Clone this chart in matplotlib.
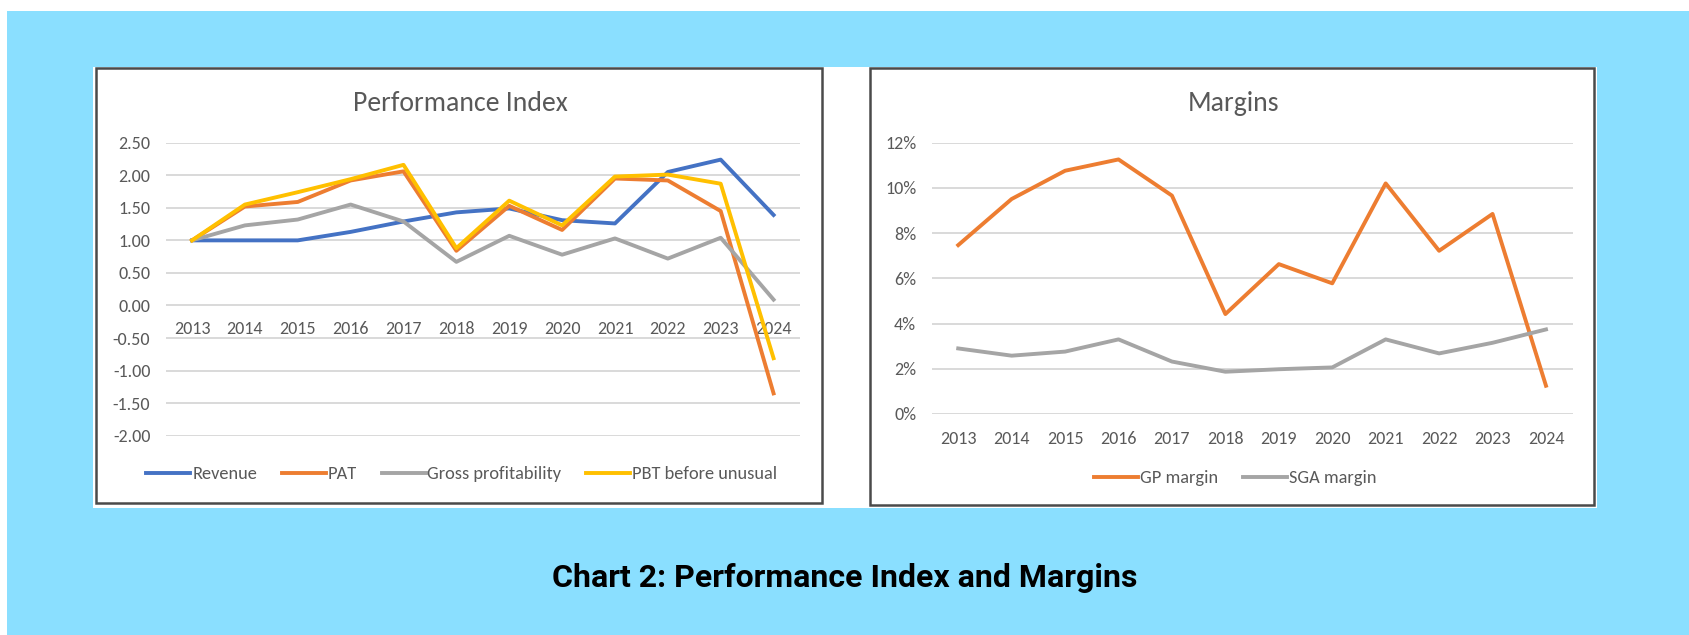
import matplotlib
matplotlib.use("Agg")
import matplotlib.pyplot as plt
from matplotlib import font_manager
from matplotlib.patches import Rectangle
from matplotlib.ticker import FuncFormatter

# Data
years = ["2013", "2014", "2015", "2016", "2017", "2018",
         "2019", "2020", "2021", "2022", "2023", "2024"]

revenue = [1.00, 1.00, 1.00, 1.13, 1.29, 1.43, 1.49, 1.31, 1.26, 2.05, 2.24, 1.39]
pat = [1.00, 1.52, 1.59, 1.92, 2.06, 0.84, 1.53, 1.16, 1.95, 1.92, 1.45, -1.35]
gross_profitability = [1.00, 1.23, 1.32, 1.55, 1.29, 0.67, 1.07, 0.78, 1.03, 0.72, 1.04, 0.09]
pbt_before_unusual = [1.00, 1.55, 1.74, 1.94, 2.16, 0.88, 1.61, 1.23, 1.98, 2.01, 1.87, -0.81]

gp_margin = [7.47, 9.51, 10.76, 11.26, 9.66, 4.42, 6.63, 5.78, 10.20, 7.22, 8.85, 1.25]
sga_margin = [2.90, 2.58, 2.76, 3.30, 2.32, 1.87, 1.98, 2.06, 3.30, 2.68, 3.15, 3.74]

perf_ticks = [2.5, 2.0, 1.5, 1.0, 0.5, 0.0, -0.5, -1.0, -1.5, -2.0]
margin_ticks = [0, 2, 4, 6, 8, 10, 12]

W, H = 1689, 635
BLUE, ORANGE, GREY, GOLD = "#4472C4", "#ED7D31", "#A5A5A5", "#FFC000"
TEXT = "#595959"
GRID = "#D9D9D9"
LW = 2.8

installed = {f.name for f in font_manager.fontManager.ttflist}
FONT = next((f for f in ["Carlito", "Calibri", "Lato", "DejaVu Sans"] if f in installed), "DejaVu Sans")
plt.rcParams["font.family"] = FONT


def box(x0, y0, x1, y1):
    """pixel box (top-left origin) -> figure fraction [l, b, w, h]"""
    return [x0 / W, 1 - y1 / H, (x1 - x0) / W, (y1 - y0) / H]


def style_axes(ax):
    for s in ax.spines.values():
        s.set_visible(False)
    ax.grid(axis="y", color=GRID, linewidth=1.4)
    ax.set_axisbelow(True)
    ax.tick_params(length=0, colors=TEXT, labelsize=13)
    ax.set_xlim(-0.5, len(years) - 0.5)
    ax.set_xticks(range(len(years)))
    ax.set_xticklabels(years)
    ax.patch.set_alpha(0)


fig = plt.figure(figsize=(W / 100, H / 100), dpi=100)
fig.patch.set_facecolor("white")

# page background and white chart card
fig.patches.append(Rectangle((7 / W, 0), 1, 1 - 11 / H, transform=fig.transFigure,
                             facecolor="#8ADFFF", edgecolor="none", zorder=-3))
l, b, w, h = box(93, 67, 1597, 508)
fig.patches.append(Rectangle((l, b), w, h, transform=fig.transFigure,
                             facecolor="white", edgecolor="none", zorder=-2))
for x0, y0, x1, y1 in [(96, 68, 822, 503), (870, 68, 1594, 505)]:
    l, b, w, h = box(x0, y0, x1, y1)
    fig.patches.append(Rectangle((l, b), w, h, transform=fig.transFigure,
                                 facecolor="none", edgecolor="#4A4A4A", linewidth=1.8, zorder=-1))

# Performance Index
ax1 = fig.add_axes(box(165.6, 142.7, 800, 435.7))
style_axes(ax1)
x = range(len(years))
ax1.plot(x, revenue, color=BLUE, lw=LW, label="Revenue")
ax1.plot(x, pat, color=ORANGE, lw=LW, label="PAT")
ax1.plot(x, gross_profitability, color=GREY, lw=LW, label="Gross profitability")
ax1.plot(x, pbt_before_unusual, color=GOLD, lw=LW, label="PBT before unusual")
ax1.set_ylim(-2.0, 2.5)
ax1.set_yticks(perf_ticks)
ax1.yaxis.set_major_formatter(FuncFormatter(lambda v, _: f"{v:.2f}"))
ax1.spines["bottom"].set_position(("data", 0))
ax1.tick_params(axis="x", pad=11.5)
ax1.tick_params(axis="y", pad=11)
fig.text(460.6 / W, 1 - 103.3 / H, "Performance Index", ha="center", va="center",
         fontsize=20, color=TEXT)
fig.legend(handles=ax1.get_lines(), loc="center", bbox_to_anchor=(461.8 / W, 1 - 474.3 / H),
           ncol=4, frameon=False, fontsize=13.2, labelcolor=TEXT, handlelength=2.4,
           handletextpad=0.1, columnspacing=1.35)

# Margins
ax2 = fig.add_axes(box(931.5, 142.7, 1572.7, 414))
style_axes(ax2)
ax2.plot(x, gp_margin, color=ORANGE, lw=LW, label="GP margin")
ax2.plot(x, sga_margin, color=GREY, lw=LW, label="SGA margin")
ax2.set_ylim(0, 12)
ax2.set_yticks(margin_ticks)
ax2.yaxis.set_major_formatter(FuncFormatter(lambda v, _: f"{v:.0f}%"))
ax2.tick_params(axis="x", pad=12)
ax2.tick_params(axis="y", pad=11)
fig.text(1233 / W, 1 - 103.3 / H, "Margins", ha="center", va="center",
         fontsize=20, color=TEXT)
fig.legend(handles=ax2.get_lines(), loc="center", bbox_to_anchor=(1235 / W, 1 - 478.3 / H),
           ncol=2, frameon=False, fontsize=13.2, labelcolor=TEXT, handlelength=2.4,
           handletextpad=0.1, columnspacing=1.35)

fig.text(0.5, 1 - 578 / H, "Chart 2: Performance Index and Margins", ha="center", va="center",
         fontsize=23, fontweight="bold", family="Roboto", color="black")

fig.savefig("out.png", dpi=100, facecolor=fig.get_facecolor())
